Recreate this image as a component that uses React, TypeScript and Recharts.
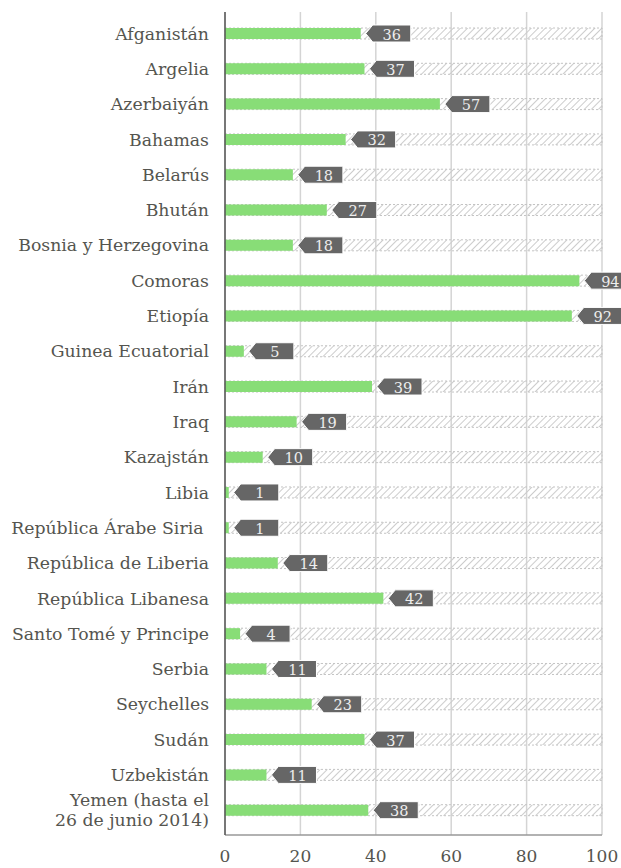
import { BarChart, Bar, XAxis, YAxis, CartesianGrid, LabelList } from "recharts";

const countries = [
  "Afganistán",
  "Argelia",
  "Azerbaiyán",
  "Bahamas",
  "Belarús",
  "Bhután",
  "Bosnia y Herzegovina",
  "Comoras",
  "Etiopía",
  "Guinea Ecuatorial",
  "Irán",
  "Iraq",
  "Kazajstán",
  "Libia",
  "República Árabe Siria ",
  "República de Liberia",
  "República Libanesa",
  "Santo Tomé y Principe",
  "Serbia",
  "Seychelles",
  "Sudán",
  "Uzbekistán",
  "Yemen (hasta el|26 de junio 2014)",
];

const values = [36, 37, 57, 32, 18, 27, 18, 94, 92, 5, 39, 19, 10, 1, 1, 14, 42, 4, 11, 23, 37, 11, 38];

const xTicks = [0, 20, 40, 60, 80, 100];

const data = countries.map((name, i) => ({ name, value: values[i] }));

const FONT = "'DejaVu Serif', serif";
const TEXT = "#55554f";

function CountryTick(props: any) {
  const { x, y, payload } = props;
  const lines = String(payload.value).split("|");
  const lh = 20;
  const y0 = y - ((lines.length - 1) * lh) / 2;
  return (
    <text
      x={x}
      y={y0}
      textAnchor="end"
      dominantBaseline="central"
      fill={TEXT}
      fontFamily={FONT}
      fontSize={17.3}
      style={{ whiteSpace: "pre" }}
    >
      {lines.map((l, i) => (
        <tspan key={i} x={x} dy={i === 0 ? 0 : lh}>
          {l}
        </tspan>
      ))}
    </text>
  );
}

function ValueTick(props: any) {
  const { x, y, payload } = props;
  return (
    <text x={x} y={y} dy={19} textAnchor="middle" fill={TEXT} fontFamily={FONT} fontSize={17}>
      {payload.value}
    </text>
  );
}

function Tag(props: any) {
  const { x, y, width, height, value } = props;
  const cy = y + height / 2;
  const tip = x + width + 5;
  const h = 17;
  const w = 45;
  const notch = 7;
  const pts = [
    [tip, cy],
    [tip + notch, cy - h / 2],
    [tip + w, cy - h / 2],
    [tip + w, cy + h / 2],
    [tip + notch, cy + h / 2],
  ]
    .map((p) => p.join(","))
    .join(" ");
  return (
    <g>
      <polygon points={pts} fill="#666666" stroke="#ffffff" strokeWidth={1} />
      <text
        x={tip + notch + (w - notch) / 2}
        y={cy}
        dy={1}
        textAnchor="middle"
        dominantBaseline="central"
        fill="#eeeeee"
        fontFamily={FONT}
        fontSize={14.5}
      >
        {value}
      </text>
    </g>
  );
}

export default function App() {
  return (
    <div style={{ position: "absolute", left: 0, top: 0, background: "#fff" }}>
      <BarChart
        width={621}
        height={868}
        data={data}
        layout="vertical"
        margin={{ top: 12, right: 19, bottom: 3, left: 0 }}
        barCategoryGap={0}
        style={{ overflow: "visible" }}
      >
        <defs>
          <pattern id="hatch" width="5" height="5" patternUnits="userSpaceOnUse" patternTransform="rotate(45)">
            <line x1="0" y1="0" x2="0" y2="5" stroke="#cccccc" strokeWidth="2" />
          </pattern>
        </defs>
        <CartesianGrid horizontal={false} stroke="#d4d4d4" strokeWidth={1.5} />
        <XAxis
          type="number"
          domain={[0, 100]}
          ticks={xTicks}
          height={30}
          axisLine={{ stroke: "#999999", strokeWidth: 1.5 }}
          tickLine={false}
          tick={<ValueTick />}
          interval={0}
        />
        <YAxis
          type="category"
          dataKey="name"
          width={225}
          padding={{ top: 4, bottom: 7 }}
          axisLine={{ stroke: "#555555", strokeWidth: 1.5 }}
          tickLine={false}
          tickSize={0}
          tickMargin={16}
          tick={<CountryTick />}
          interval={0}
        />
        <Bar
          dataKey="value"
          fill="#88dd77"
          barSize={11}
          isAnimationActive={false}
          background={{ fill: "url(#hatch)", stroke: "#c4c4c4", strokeDasharray: "2 2", strokeWidth: 1 }}
        >
          <LabelList dataKey="value" content={<Tag />} />
        </Bar>
      </BarChart>
    </div>
  );
}
